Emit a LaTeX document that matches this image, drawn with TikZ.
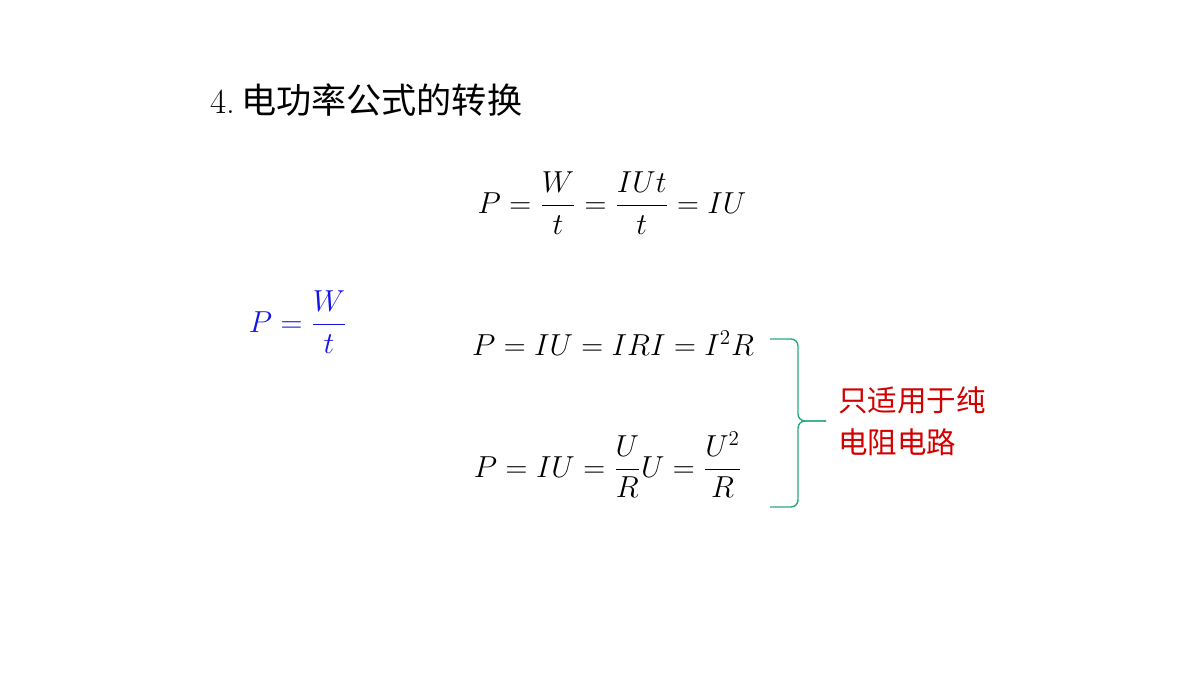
\documentclass[tikz,border=0pt]{standalone}
\usepackage{amsmath}
\usepackage{fontspec}
\newfontfamily\cjk{Noto Sans CJK SC}
\definecolor{bracegreen}{RGB}{40,170,120}
\definecolor{notered}{RGB}{210,0,0}
\definecolor{eqblue}{RGB}{20,20,230}
\tikzset{
  eq/.style={inner sep=0pt, font=\fontsize{16.5}{20}\selectfont},
  note/.style={inner sep=0pt, align=left, text=notered, font=\cjk\fontsize{16.8}{24}\selectfont},
  title/.style={inner sep=0pt, anchor=west, font=\fontsize{20}{24}\selectfont},
  bracket/.style={draw=bracegreen, line width=0.8pt, rounded corners=4pt}
}
\begin{document}
\begin{tikzpicture}[x=0.02cm, y=-0.02cm]
  \useasboundingbox (0,0) rectangle (1200,675);
  % title
  \node[title] (head) at (210,100) {4.\,{\cjk 电功率公式的转换}};
  % formulas
  \node[eq] (eqa) at (612,203) {$P=\dfrac{W}{t}=\dfrac{IUt}{t}=IU$};
  \node[eq, text=eqblue] (eqdef) at (298,322) {$P=\dfrac{W}{t}$};
  \node[eq] (eqb) at (613,343) {$P=IU=IRI=I^{2}R$};
  \node[eq] (eqc) at (608,465) {$P=IU=\dfrac{U}{R}U=\dfrac{U^{2}}{R}$};
  % brace and note
  \coordinate (btop) at (770,339);
  \coordinate (bbot) at (770,507);
  \coordinate (btip) at (826,421);
  \draw[bracket] (btop) -- (798,339) -- (798,421) -- (btip);
  \draw[bracket] (bbot) -- (798,507) -- (798,421) -- (btip);
  \node[note, anchor=west] (scope) at (838,421) {只适用于纯\\电阻电路};
\end{tikzpicture}
\end{document}
